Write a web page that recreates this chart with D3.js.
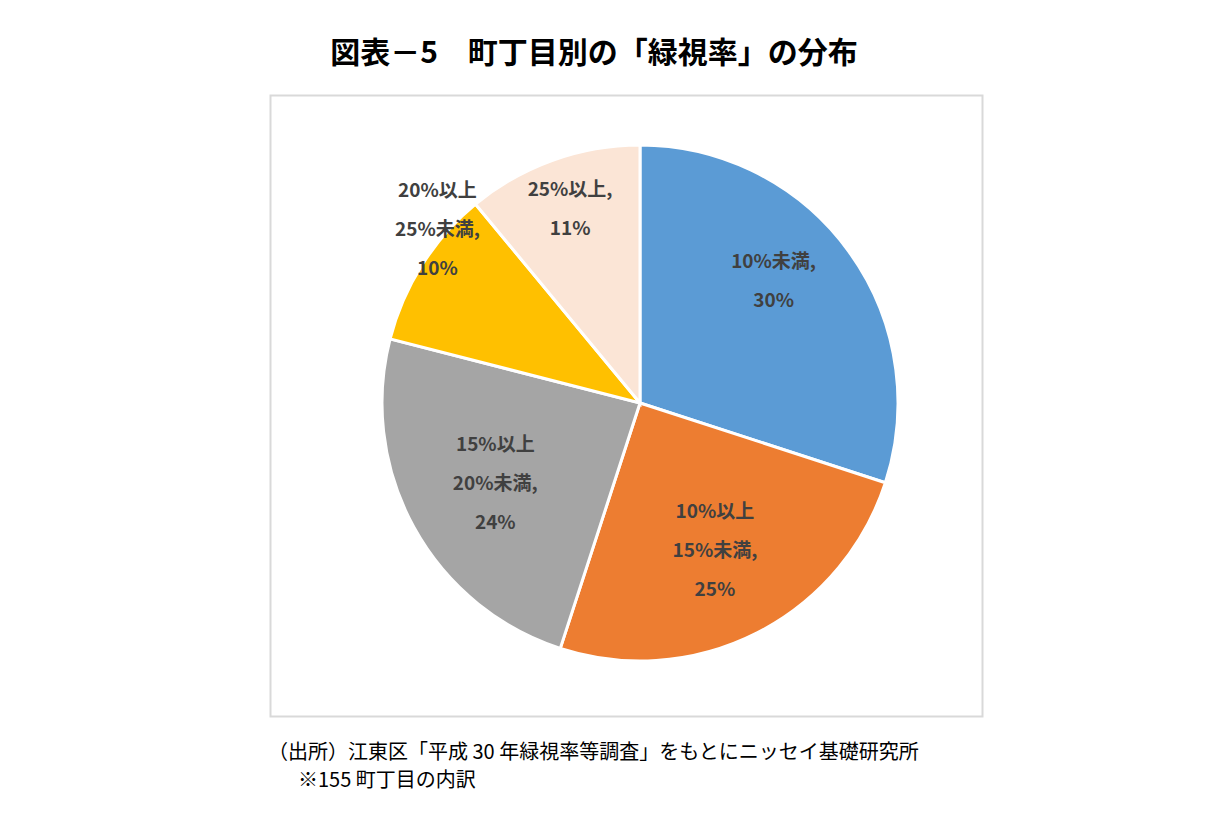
<!DOCTYPE html>
<html><head><meta charset="utf-8">
<script src="https://cdn.jsdelivr.net/npm/d3@7"></script>
<style>body{margin:0;background:#fff;font-family:"Noto Sans CJK JP",sans-serif;}</style>
</head><body><div id="chart"></div>
<script>
// data
var categories = [["10%未満,"], ["10%以上", "15%未満,"], ["15%以上", "20%未満,"], ["20%以上", "25%未満,"], ["25%以上,"]];
var shares = [30, 25, 24, 10, 11];
var colors = ["#5b9bd5", "#ed7d31", "#a5a5a5", "#ffc000", "#fbe5d6"];

var svg = d3.select("#chart").append("svg").attr("width", 1229).attr("height", 829);

// title
svg.append("text").attr("x", 594).attr("y", 63).attr("text-anchor", "middle")
  .attr("font-size", 30).attr("font-weight", "bold").attr("fill", "#000")
  .text("図表－5　町丁目別の「緑視率」の分布");

// chart frame
svg.append("rect").attr("x", 270.5).attr("y", 95.5).attr("width", 712).attr("height", 621)
  .attr("fill", "none").attr("stroke", "#d9d9d9").attr("stroke-width", 2);

var r = 258;
var g = svg.append("g").attr("transform", "translate(640,403)");
var pie = d3.pie().sort(null).value(d => d.v);
var arc = d3.arc().innerRadius(0).outerRadius(r);
var arcs = pie(shares.map((v, i) => ({v: v, i: i})));

g.selectAll("path").data(arcs).enter().append("path")
  .attr("d", arc).attr("fill", d => colors[d.data.i])
  .attr("stroke", "#fff").attr("stroke-width", 3);

// labels: small slices pushed further out
var lab = g.selectAll("text.lab").data(arcs).enter().append("text")
  .attr("class", "lab")
  .attr("text-anchor", "middle").attr("font-size", 19).attr("font-weight", "bold").attr("fill", "#404040")
  .attr("transform", function(d) {
    var k = d.data.v <= 10 ? 0.93 : d.data.v < 15 ? 0.8 : 0.64;
    var a = (d.startAngle + d.endAngle) / 2;
    var dy = d.data.v <= 10 ? -45 : d.data.i === 0 ? -25 : 0;
    return "translate(" + (Math.sin(a) * r * k) + "," + (-Math.cos(a) * r * k + dy) + ")";
  });
lab.each(function(d) {
  var lines = categories[d.data.i].concat([d.data.v + "%"]);
  var t = d3.select(this);
  lines.forEach(function(s, j) {
    t.append("tspan").attr("x", 0).attr("y", (j - (lines.length - 1) / 2) * 39 + 7).text(s);
  });
});

// source notes
svg.append("text").attr("x", 268).attr("y", 759).attr("font-size", 20).attr("fill", "#000")
  .text("（出所）江東区「平成 30 年緑視率等調査」をもとにニッセイ基礎研究所");
svg.append("text").attr("x", 298).attr("y", 787).attr("font-size", 20).attr("fill", "#000")
  .text("※155 町丁目の内訳");
</script></body></html>
